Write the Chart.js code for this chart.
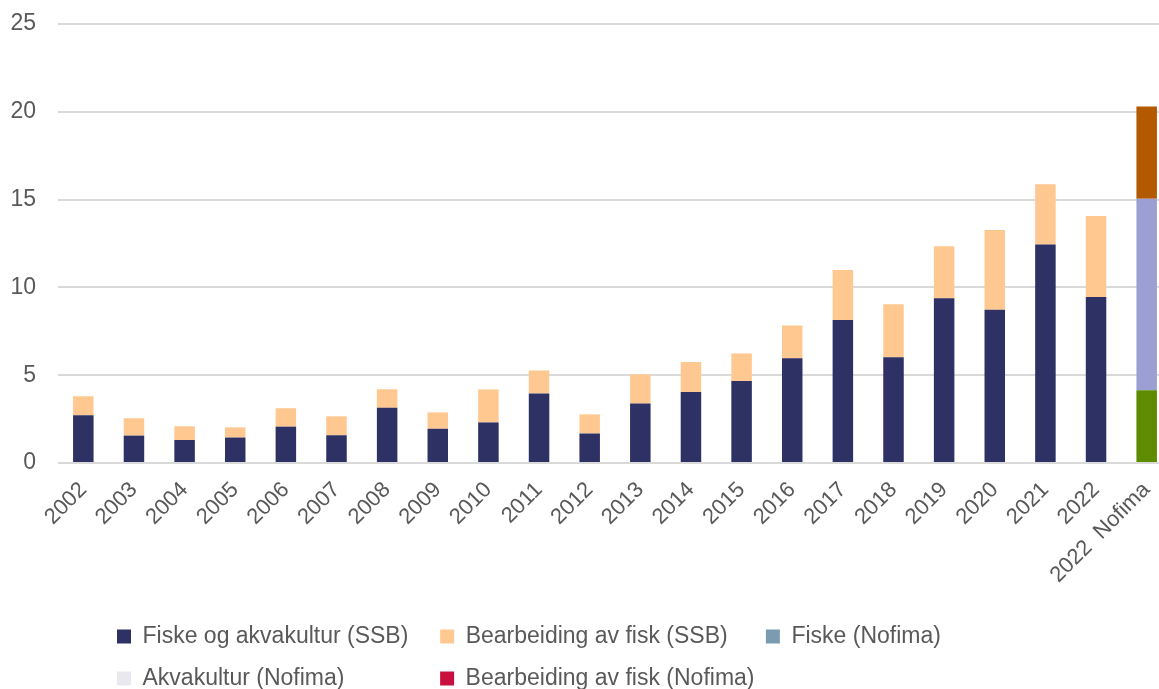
<!DOCTYPE html>
<html lang="no">
<head>
    <meta charset="UTF-8">
    <title>Verdiskaping fiskeri og havbruk</title>
    <script src="https://cdn.jsdelivr.net/npm/chart.js"></script>
    <style>
        body {
            margin: 0;
            padding: 0;
            background: #ffffff;
            overflow: hidden;
        }

        .chart-box {
            position: relative;
            width: 1172px;
            height: 700px;
        }
    </style>
</head>
<body>

    <div class="chart-box">
        <canvas id="fiskChart"></canvas>
    </div>

    <script>
        // Kategorier og verdier (lest fra figuren)
        const years = ['2002', '2003', '2004', '2005', '2006', '2007', '2008', '2009', '2010', '2011',
            '2012', '2013', '2014', '2015', '2016', '2017', '2018', '2019', '2020', '2021', '2022', '2022  Nofima'];

        const fiskeAkvaSSB = [2.72, 1.56, 1.31, 1.45, 2.07, 1.58, 3.14, 1.95, 2.31, 3.96, 1.68,
            3.39, 4.04, 4.67, 5.96, 8.15, 6.02, 9.38, 8.73, 12.44, 9.46, null];
        const bearbeidingSSB = [1.08, 0.99, 0.78, 0.58, 1.05, 1.08, 1.06, 0.93, 1.88, 1.31, 1.09,
            1.66, 1.71, 1.57, 1.87, 2.84, 3.02, 2.97, 4.54, 3.43, 4.61, null];

        const fiskeNofima = [null, null, null, null, null, null, null, null, null, null, null,
            null, null, null, null, null, null, null, null, null, null, 4.15];
        const akvaNofima = [null, null, null, null, null, null, null, null, null, null, null,
            null, null, null, null, null, null, null, null, null, null, 10.9];
        const bearbeidingNofima = [null, null, null, null, null, null, null, null, null, null, null,
            null, null, null, null, null, null, null, null, null, null, 5.25];

        const yTicks = [0, 5, 10, 15, 20, 25];

        // Farger: stolper og forklaring er ikke like for Nofima-seriene
        const barColors = ['#2e3164', '#ffc891', '#5e8c00', '#9c9fd4', '#b35900'];
        const legendColors = ['#2e3164', '#ffc891', '#7a9bb0', '#e8e8ee', '#c8103e'];
        const textColor = '#595959';

        const seriesNames = ['Fiske og akvakultur (SSB)', 'Bearbeiding av fisk (SSB)', 'Fiske (Nofima)',
            'Akvakultur (Nofima)', 'Bearbeiding av fisk (Nofima)'];
        const seriesData = [fiskeAkvaSSB, bearbeidingSSB, fiskeNofima, akvaNofima, bearbeidingNofima];

        // ekstra mellomrom bak teksten så forklaringen står i kolonner som i Excel
        const legendPad = [2, 3, 0, 12, 0];

        // flytter forklaringen litt inn fra venstre kant
        const legendShift = {
            id: 'legendShift',
            afterLayout(chart) {
                chart.legend.left = 98;
            }
        };

        const ctx = document.getElementById('fiskChart').getContext('2d');
        const fiskChart = new Chart(ctx, {
            type: 'bar',
            data: {
                labels: years,
                datasets: seriesNames.map((name, i) => ({
                    label: name,
                    data: seriesData[i],
                    backgroundColor: barColors[i],
                    borderWidth: 0,
                    categoryPercentage: 1,
                    barPercentage: 0.405
                }))
            },
            options: {
                responsive: true,
                maintainAspectRatio: false,
                animation: false,
                layout: {
                    padding: { top: 24, left: 10, right: 0, bottom: 0 }
                },
                plugins: {
                    tooltip: { enabled: false },
                    legend: {
                        position: 'bottom',
                        align: 'start',
                        maxWidth: 1000,
                        labels: {
                            boxWidth: 14,
                            boxHeight: 14,
                            padding: 19,
                            color: textColor,
                            font: { family: 'Liberation Sans, Arial, sans-serif', size: 23 },
                            generateLabels(chart) {
                                return chart.data.datasets.map((ds, i) => ({
                                    text: ds.label + ' '.repeat(legendPad[i]),
                                    fillStyle: legendColors[i],
                                    strokeStyle: legendColors[i],
                                    lineWidth: 0,
                                    fontColor: textColor,
                                    hidden: false,
                                    datasetIndex: i
                                }));
                            }
                        }
                    }
                },
                scales: {
                    x: {
                        stacked: true,
                        grid: { display: false },
                        border: { display: false },
                        afterFit(scale) {
                            scale.height = 143;
                            scale.paddingLeft = 0;
                            scale.paddingRight = 0;
                        },
                        ticks: {
                            autoSkip: false,
                            minRotation: 45,
                            maxRotation: 45,
                            padding: 6,
                            color: textColor,
                            font: { family: 'Liberation Sans, Arial, sans-serif', size: 22 }
                        }
                    },
                    y: {
                        stacked: true,
                        min: 0,
                        max: 25,
                        afterBuildTicks(scale) {
                            scale.ticks = yTicks.map(v => ({ value: v }));
                        },
                        afterFit(scale) {
                            scale.width = 48;
                            scale.paddingTop = 0;
                            scale.paddingBottom = 0;
                        },
                        grid: {
                            color: '#d9d9d9',
                            lineWidth: 2,
                            drawTicks: false
                        },
                        border: { display: false },
                        ticks: {
                            padding: 22,
                            color: textColor,
                            font: { family: 'Liberation Sans, Arial, sans-serif', size: 23 }
                        }
                    }
                }
            },
            plugins: [legendShift]
        });
    </script>

</body>
</html>
